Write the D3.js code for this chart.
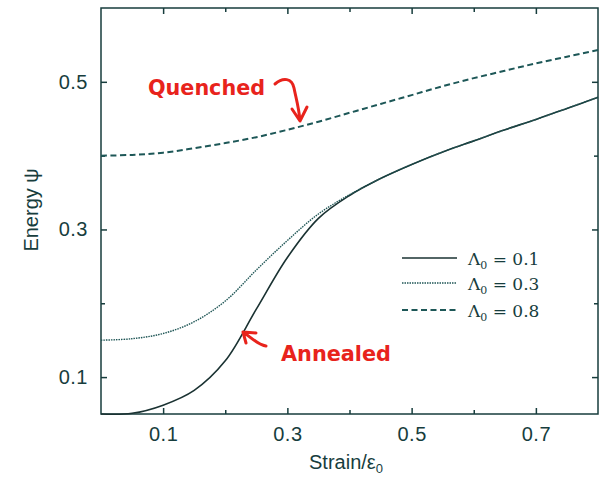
<!DOCTYPE html>
<html>
<head>
<meta charset="utf-8">
<script src="https://cdn.jsdelivr.net/npm/d3@7"></script>
<style>
  body { margin: 0; background: #fff; }
  svg { display: block; }
</style>
</head>
<body>
<div id="chart"></div>
<script>
// strain values (x) shared by all curves
var strain = [0, 0.05, 0.1, 0.15, 0.2, 0.25, 0.3, 0.35, 0.4, 0.45, 0.5, 0.55, 0.6, 0.65, 0.7, 0.75, 0.8];

// energy for each Lambda_0
var energy01 = [0.050, 0.051, 0.062, 0.082, 0.122, 0.192, 0.262, 0.315, 0.346, 0.369, 0.388, 0.405, 0.420, 0.435, 0.449, 0.464, 0.479];
var energy03 = [0.150, 0.152, 0.159, 0.175, 0.203, 0.245, 0.285, 0.321, 0.347, 0.369, 0.388, 0.405, 0.420, 0.435, 0.449, 0.464, 0.479];
var energy08 = [0.400, 0.401, 0.404, 0.410, 0.417, 0.425, 0.435, 0.446, 0.458, 0.470, 0.482, 0.494, 0.505, 0.515, 0.525, 0.534, 0.543];

var xTicks = [0.1, 0.3, 0.5, 0.7];
var xMinor = [0.2, 0.4, 0.6];
var yTicks = [0.1, 0.3, 0.5];
var yMinor = [0.2, 0.4];
var legendLabels = ["0.1", "0.3", "0.8"];

var width = 600, height = 477;
var margin = {top: 8, right: 2, bottom: 63, left: 101};
var w = width - margin.left - margin.right,
    h = height - margin.top - margin.bottom;

var ink = "#173d3d";
var sans = "Liberation Sans, Arial, sans-serif";

var svg = d3.select("#chart")
  .append("svg")
    .attr("width", width)
    .attr("height", height);

var g = svg.append("g")
    .attr("transform", "translate(" + margin.left + "," + margin.top + ")");

var x = d3.scaleLinear().domain([0, 0.8]).range([0, w]);
var y = d3.scaleLinear().domain([0.05, 0.6]).range([h, 0]);

// frame
g.append("rect")
  .attr("x", 0).attr("y", 0)
  .attr("width", w).attr("height", h)
  .attr("fill", "none")
  .attr("stroke", ink)
  .attr("stroke-width", 1.5);

// bottom axis
g.append("g")
  .attr("transform", "translate(0," + h + ")")
  .call(d3.axisBottom(x).tickValues(xTicks).tickSize(-6).tickPadding(13).tickFormat(d3.format(".1f")));
g.append("g")
  .attr("transform", "translate(0," + h + ")")
  .call(d3.axisBottom(x).tickValues(xMinor).tickSize(-4).tickFormat(""));
// top ticks
g.append("g")
  .call(d3.axisTop(x).tickValues(xTicks).tickSize(-6).tickFormat(""));
g.append("g")
  .call(d3.axisTop(x).tickValues(xMinor).tickSize(-4).tickFormat(""));

// left axis
g.append("g")
  .call(d3.axisLeft(y).tickValues(yTicks).tickSize(-6).tickPadding(13).tickFormat(d3.format(".1f")));
g.append("g")
  .call(d3.axisLeft(y).tickValues(yMinor).tickSize(-4).tickFormat(""));
// right ticks
g.append("g")
  .attr("transform", "translate(" + w + ",0)")
  .call(d3.axisRight(y).tickValues(yTicks).tickSize(-6).tickFormat(""));
g.append("g")
  .attr("transform", "translate(" + w + ",0)")
  .call(d3.axisRight(y).tickValues(yMinor).tickSize(-4).tickFormat(""));

g.selectAll(".domain").remove();
g.selectAll(".tick line").attr("stroke", ink).attr("stroke-width", 1.5);
g.selectAll(".tick text")
  .attr("fill", ink)
  .style("font-family", sans)
  .style("font-size", "20px")
  .style("letter-spacing", "0.5px");

// axis titles
svg.append("text")
  .attr("transform", "translate(38,210) rotate(-90)")
  .attr("text-anchor", "middle")
  .attr("fill", ink)
  .style("font-family", sans)
  .style("font-size", "20px")
  .text("Energy \u03C8");

var xt = svg.append("text")
  .attr("x", 346).attr("y", 469)
  .attr("text-anchor", "middle")
  .attr("fill", ink)
  .style("font-family", sans)
  .style("font-size", "20px");
xt.append("tspan").text("Strain/\u03B5");
xt.append("tspan").attr("dy", 4).style("font-size", "13px").text("0");

// curves
var series = [
  {values: energy01, dash: null, width: 1.6, color: "#1a3232"},
  {values: energy03, dash: "1.5,1", width: 1.4, color: "#1f5656"},
  {values: energy08, dash: "6,3.5", width: 2, color: "#1d5757"}
];

var line = d3.line()
  .curve(d3.curveCatmullRom.alpha(0.5))
  .x(function(d) { return x(d[0]); })
  .y(function(d) { return y(d[1]); });

series.forEach(function(s) {
  g.append("path")
    .datum(d3.zip(strain, s.values))
    .attr("fill", "none")
    .attr("stroke", s.color)
    .attr("stroke-width", s.width)
    .attr("stroke-dasharray", s.dash)
    .attr("d", line);
});

// legend
var legend = svg.append("g").attr("transform", "translate(402,258)");
series.forEach(function(s, i) {
  var row = legend.append("g").attr("transform", "translate(0," + [0, 25, 52][i] + ")");
  row.append("line")
    .attr("x1", 0).attr("x2", 55)
    .attr("stroke", s.color)
    .attr("stroke-width", s.width)
    .attr("stroke-dasharray", s.dash);
  var t = row.append("text")
    .attr("x", 66).attr("y", 7)
    .attr("fill", ink)
    .style("font-family", "DejaVu Serif, serif")
    .style("font-size", "17px");
  t.append("tspan").text("\u039B");
  t.append("tspan").attr("dy", 4).style("font-size", "11px").text("0");
  t.append("tspan").attr("dy", -4).text(" = " + legendLabels[i]);
});

// hand-drawn annotations
var red = "#e8231c";
svg.append("text")
  .attr("x", 148).attr("y", 95)
  .attr("fill", red)
  .attr("textLength", 117)
  .attr("lengthAdjust", "spacingAndGlyphs")
  .style("font-family", "DejaVu Sans, sans-serif")
  .style("font-weight", "bold")
  .style("font-size", "21px")
  .text("Quenched");

svg.append("path")
  .attr("d", "M275,84 C283,77 292,78 294,88 C296,98 299,108 300,121 M292,109 L300,121 L307,107")
  .attr("fill", "none")
  .attr("stroke", red)
  .attr("stroke-width", 3)
  .attr("stroke-linecap", "round")
  .attr("stroke-linejoin", "round");

svg.append("text")
  .attr("x", 281).attr("y", 361)
  .attr("fill", red)
  .attr("textLength", 110)
  .attr("lengthAdjust", "spacingAndGlyphs")
  .style("font-family", "DejaVu Sans, sans-serif")
  .style("font-weight", "bold")
  .style("font-size", "21px")
  .text("Annealed");

svg.append("path")
  .attr("d", "M243,332 C252,338 258,345 266,346 M243,332 L256,333 M243,332 L246,343")
  .attr("fill", "none")
  .attr("stroke", red)
  .attr("stroke-width", 3)
  .attr("stroke-linecap", "round")
  .attr("stroke-linejoin", "round");
</script>
</body>
</html>
